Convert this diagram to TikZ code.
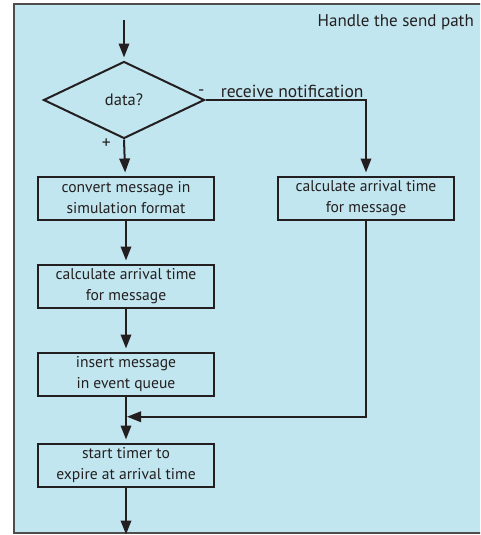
\documentclass[tikz,border=0pt]{standalone}
\usepackage{fontspec}
\setmainfont{PT Sans}
\usepackage{xcolor}
\usetikzlibrary{arrows.meta,positioning,shapes.geometric,calc}
\definecolor{panelblue}{RGB}{194,230,239}
\definecolor{inkgray}{RGB}{35,31,32}
\tikzset{
  flow box/.style   = {draw=inkgray, line width=2pt, minimum width=176pt,
                        minimum height=43pt, inner sep=0pt, align=center,
                        text=inkgray, font=\fontsize{15.6}{21}\selectfont},
  test node/.style  = {draw=inkgray, diamond, line width=2pt, minimum width=161pt,
                        minimum height=77pt, inner sep=0pt, align=center,
                        text=inkgray, font=\fontsize{16.5}{21}\selectfont},
  side label/.style = {text=inkgray, inner sep=1pt, font=\fontsize{17.5}{20}\selectfont},
  arr/.style        = {-{Triangle[length=14pt,width=10.5pt]}, line width=2pt,
                        draw=inkgray, shorten >=3pt},
}

\begin{document}
\begin{tikzpicture}[x=1pt, y=-1pt, node distance=43pt and 62pt]
  \clip (0,0) rectangle (480,535);
  \useasboundingbox (0,0) rectangle (480,535);
  \draw[fill=panelblue, draw=inkgray!80, line width=1.5pt] (14,4) rectangle (495,533);

  \node[side label, anchor=east, font=\fontsize{17}{20}\selectfont] (title) at (475,22) {Handle the send path};

  \node[test node] (data) at (124,100) {data?};
  \coordinate[above=40pt of data] (start);
  \node[flow box, below=36pt of data, xshift=2pt] (conv)  {convert message in\\simulation format};
  \node[flow box, right=of conv]  (calcr) {calculate arrival time\\for message};
  \node[flow box, below=of conv]  (calcl) {calculate arrival time\\for message};
  \node[flow box, below=of calcl] (ins)   {insert message\\in event queue};
  \node[flow box, below=46pt of ins] (timer) {start timer to\\expire at arrival time};
  \coordinate[below=50pt of timer] (stop);

  \node[side label, above left=3pt and 0pt of data.east] (neg) {-};
  \node[side label, below left=-2pt and 12pt of data.south] (pos) {+};

  \draw[arr] (start) -- (data);
  \draw[arr] (data.east) -| node[side label, pos=0.27, above=0pt] (recv) {receive notification} (calcr.north);
  \draw[arr] (data.south) -- (conv);
  \draw[arr] (conv) -- (calcl);
  \draw[arr] (calcl) -- (ins);
  \draw[arr] (ins) -- (timer);
  \draw[arr] (timer) -- (stop);

  % join from the right branch
  \coordinate (join) at ($(ins.south)!0.44!(timer.north)$);
  \draw[arr, shorten >=-1pt] (calcr.south) |- ([xshift=2pt]join);
\end{tikzpicture}
\end{document}
